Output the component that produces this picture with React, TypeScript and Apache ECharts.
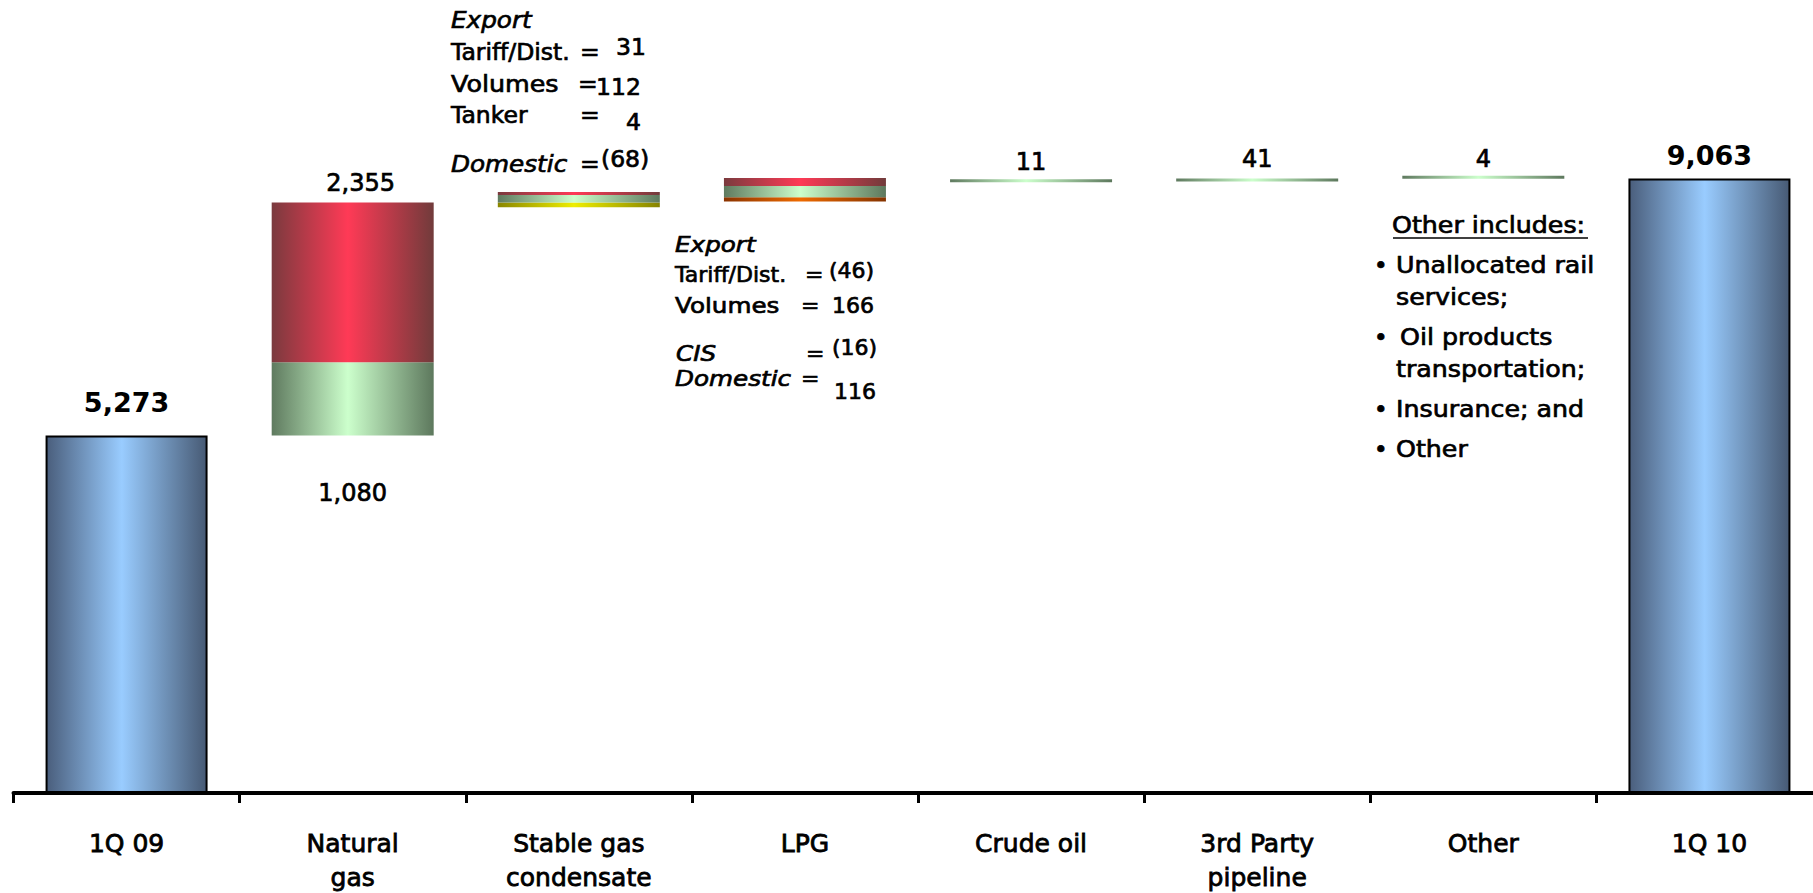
import React, { useEffect, useRef } from 'react';
import * as echarts from 'echarts';

// ---------------- data ----------------
const categories = ['1Q 09', 'Natural\ngas', 'Stable gas\ncondensate', 'LPG', 'Crude oil', '3rd Party\npipeline', 'Other', '1Q 10'];
// opening / closing totals
const totals: (number | null)[] = [5273, null, null, null, null, null, null, 9063];
// green segments (volumes): NG volumes, SGC export volumes, LPG export volumes, crude, 3rd party, other
const volumes: (number | null)[] = [null, 1080, 112, 166, 11, 41, 4, null];
// red segments: NG tariff, SGC export tariff 31 + tanker 4, LPG domestic 116
const tariffs: (number | null)[] = [null, 2355, 35, 116, null, null, null, null];
// negative segments: SGC domestic (68), LPG export tariff (46) + CIS (16)
const negatives: (number | null)[] = [null, null, 68, 62, null, null, null, null];

// invisible base of the waterfall, from running totals
const base: (number | null)[] = [];
{
  let running = 0;
  categories.forEach((_, i) => {
    if (totals[i] != null) {
      base.push(null);
      running = totals[i] as number;
      return;
    }
    const neg = negatives[i] ?? 0;
    base.push(running - neg);
    running = running - neg + (volumes[i] ?? 0) + (tariffs[i] ?? 0);
  });
}

const FONT = 'DejaVu Sans';

const hGrad = (l: string, m: string, r: string, mid = 0.47) =>
  new echarts.graphic.LinearGradient(0, 0, 1, 0, [
    { offset: 0, color: l },
    { offset: mid, color: m },
    { offset: 1, color: r },
  ]);

const fmt = (v: number) => String(v).replace(/\B(?=(\d{3})+(?!\d))/g, ',');

const lbl = (fs: number, bold = false) => ({
  show: true,
  color: '#000',
  fontFamily: FONT,
  fontSize: fs,
  fontWeight: bold ? 'bold' : 'normal',
  lineHeight: fs,
  textBorderColor: '#000',
  textBorderWidth: bold ? 0 : 0.7,
  formatter: (p: any) => fmt(Number(p.value)),
});

// text helper: x = left of text, b = baseline
const txt = (text: string, x: number, b: number, fs: number, opts: { italic?: boolean; sx?: number } = {}) => ({
  type: 'text',
  x,
  y: b - 0.346 * fs,
  scaleX: opts.sx ?? 1,
  style: {
    text,
    fontSize: fs,
    fontFamily: FONT,
    fontStyle: opts.italic ? 'italic' : 'normal',
    lineHeight: fs,
    fill: '#000',
    stroke: '#000',
    lineWidth: 0.7,
    align: 'left',
    verticalAlign: 'middle',
  },
});

export default function App() {
  const ref = useRef<HTMLDivElement>(null);

  useEffect(() => {
    if (!ref.current) return;
    const chart = echarts.init(ref.current, null, { renderer: 'svg' });

    const blue = hGrad('#4a5e7c', '#99ccff', '#475a74', 0.47);
    const red = hGrad('#7a3a3e', '#ff3a56', '#713b3b', 0.47);
    const green = hGrad('#5f7a5f', '#ccffcc', '#5d785d', 0.47);
    const yellow = hGrad('#8a8600', '#eeee00', '#858200', 0.47);
    const orange = hGrad('#8a3300', '#ee6a00', '#843300', 0.47);

    const common = { type: 'bar', stack: 'w', barWidth: 162, barMinHeight: 3, label: { show: false } };

    const greenLabels: Record<number, any> = {
      1: { ...lbl(24), position: 'bottom', distance: 46 },
      4: { ...lbl(24), position: 'top', distance: 5 },
      5: { ...lbl(24), position: 'top', distance: 8 },
      6: { ...lbl(24), position: 'top', distance: 5 },
    };

    const S1 = 23.5;
    const S2 = 22;
    const S3 = 23;
    const O = { sx: 1.1 };

    const option: any = {
      animation: false,
      backgroundColor: '#ffffff',
      grid: { left: 13.5, top: 115, width: 1809, height: 678, containLabel: false, outerBoundsMode: 'none' },
      xAxis: {
        type: 'category',
        data: categories,
        axisLine: { show: true, lineStyle: { color: '#000', width: 4 } },
        axisTick: { show: true, length: 10, alignWithLabel: false, lineStyle: { color: '#000', width: 3 } },
        axisLabel: {
          color: '#000',
          fontSize: 25,
          fontFamily: FONT,
          lineHeight: 34,
          margin: 33,
          interval: 0,
          textBorderColor: '#000',
          textBorderWidth: 0.8,
        },
        splitLine: { show: false },
      },
      yAxis: { type: 'value', min: 0, max: 10000, show: false, splitLine: { show: false } },
      series: [
        {
          ...common,
          name: 'base',
          barMinHeight: 0,
          silent: true,
          itemStyle: { color: 'transparent' },
          data: base.map((v) => (v == null ? '-' : v)),
        },
        {
          ...common,
          name: 'Decrease',
          data: negatives.map((v, i) =>
            v == null ? '-' : { value: v, itemStyle: { color: i === 2 ? yellow : orange } }
          ),
        },
        {
          ...common,
          name: 'Volumes',
          itemStyle: { color: green },
          data: volumes.map((v, i) =>
            v == null ? '-' : greenLabels[i] ? { value: v, label: greenLabels[i] } : v
          ),
        },
        {
          ...common,
          name: 'Tariff',
          itemStyle: { color: red },
          data: tariffs.map((v, i) =>
            v == null ? '-' : i === 1 ? { value: v, label: { ...lbl(24), position: 'top', distance: 8, offset: [8, 0] } } : v
          ),
        },
        {
          ...common,
          name: 'Total',
          itemStyle: { color: blue, borderColor: '#000', borderWidth: 2 },
          data: totals.map((v, i) =>
            v == null
              ? '-'
              : { value: v, label: { ...lbl(27, true), position: 'top', distance: i === 0 ? 19 : 10 } }
          ),
        },
      ],
      graphic: [
        // Stable gas condensate notes
        txt('Export', 451, 28, S1, { italic: true, sx: 1.05 }),
        txt('Tariff/Dist.', 451, 60, S1),
        txt('=', 580, 60, S1),
        txt('31', 616, 55, S1),
        txt('Volumes', 451, 92, S1, { sx: 1.08 }),
        txt('=', 578, 92, S1),
        txt('112', 596, 95, S1),
        txt('Tanker', 451, 123, S1),
        txt('=', 580, 123, S1),
        txt('4', 626, 130, S1),
        txt('Domestic', 451, 172, S1, { italic: true, sx: 1.05 }),
        txt('=', 580, 172, S1),
        txt('(68)', 601, 167, S1),
        // LPG notes
        txt('Export', 675, 252, S2, { italic: true, sx: 1.12 }),
        txt('Tariff/Dist.', 675, 282, S2),
        txt('=', 805, 282, S2),
        txt('(46)', 829, 278, S2),
        txt('Volumes', 675, 313, S2, { sx: 1.12 }),
        txt('=', 801, 313, S2),
        txt('166', 832, 313, S2),
        txt('CIS', 676, 361, S2, { italic: true, sx: 1.12 }),
        txt('=', 806, 361, S2),
        txt('(16)', 832, 355, S2),
        txt('Domestic', 675, 386, S2, { italic: true, sx: 1.12 }),
        txt('=', 801, 386, S2),
        txt('116', 834, 399, S2),
        // Other notes
        txt('Other includes:', 1392, 233, S3, O),
        {
          type: 'line',
          shape: { x1: 1393, y1: 238, x2: 1588, y2: 238 },
          style: { stroke: '#000', lineWidth: 1.6 },
        },
        txt('•', 1374, 273, S3),
        txt('Unallocated rail', 1396, 273, S3, O),
        txt('services;', 1396, 305, S3, O),
        txt('•', 1374, 345, S3),
        txt('Oil products', 1400, 345, S3, O),
        txt('transportation;', 1396, 377, S3, O),
        txt('•', 1374, 417, S3),
        txt('Insurance; and', 1396, 417, S3, O),
        txt('•', 1374, 457, S3),
        txt('Other', 1396, 457, S3, O),
      ],
    };

    chart.setOption(option);
    return () => chart.dispose();
  }, []);

  return (
    <div
      ref={ref}
      style={{ position: 'absolute', left: 0, top: 0, width: 1813, height: 893, background: '#fff' }}
    />
  );
}
